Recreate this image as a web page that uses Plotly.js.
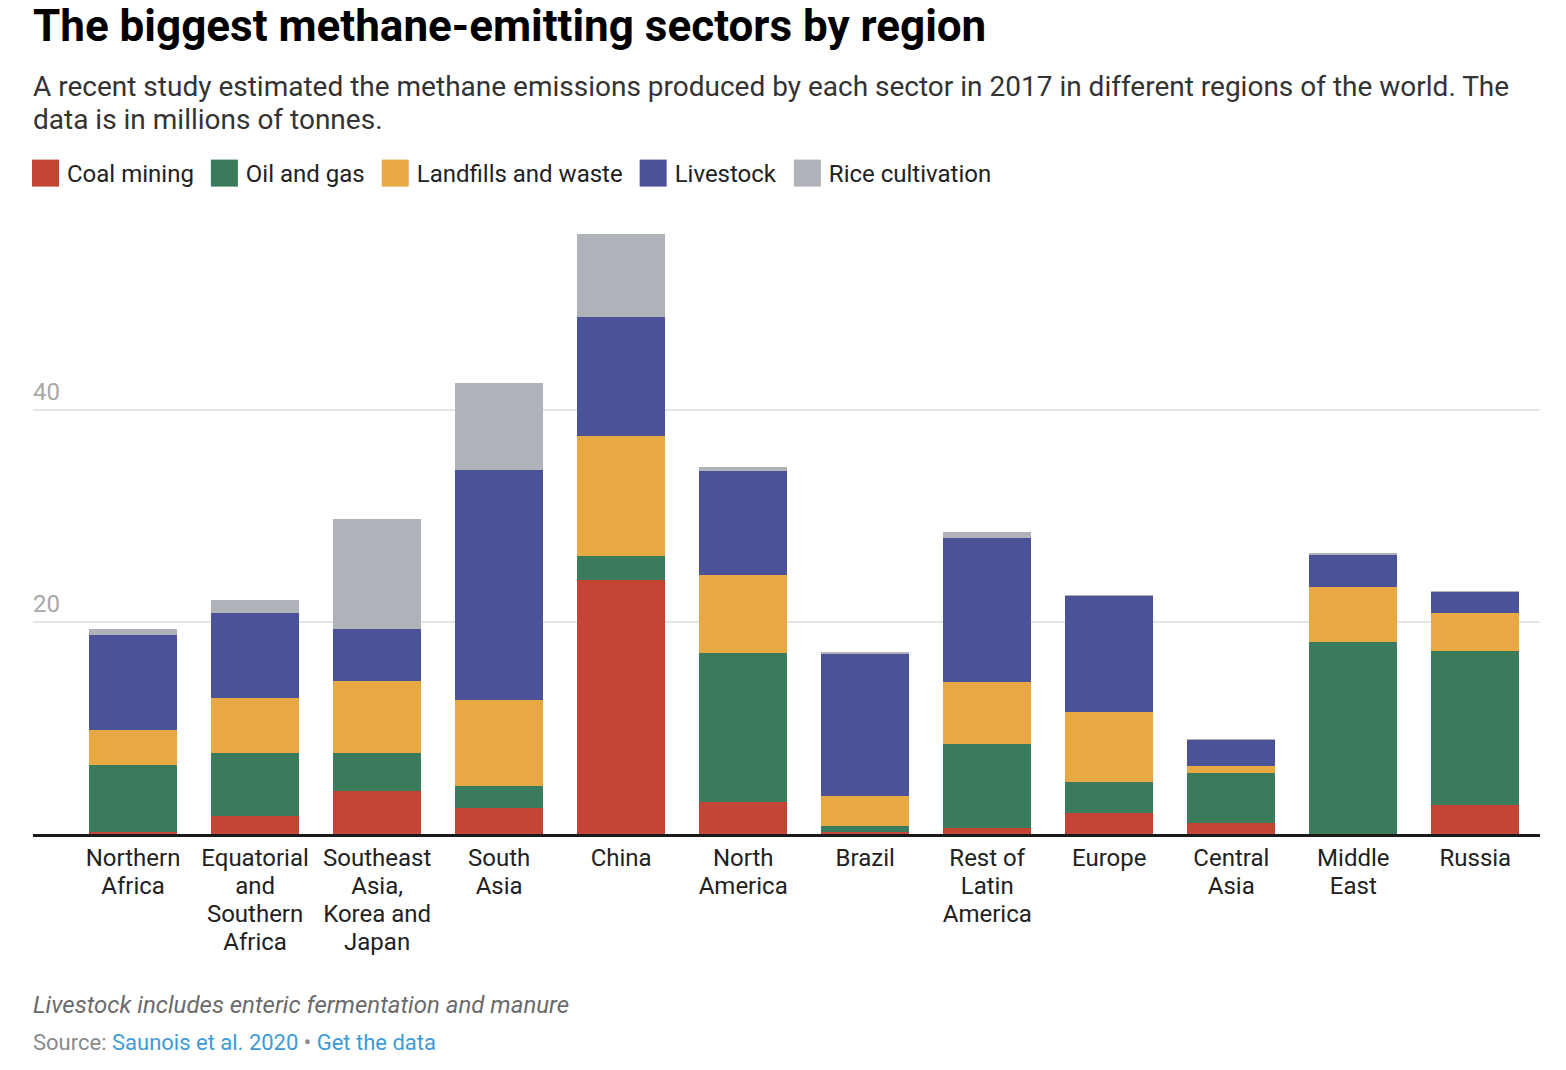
<!DOCTYPE html>
<html><head><meta charset="utf-8">
<script src="https://cdn.plot.ly/plotly-3.0.1.min.js"></script>
<style>body{margin:0;background:#fff}#chart{width:1566px;height:1070px}</style>
</head><body><div id="chart"></div>
<script>
const regions = ["Northern<br>Africa", "Equatorial<br>and<br>Southern<br>Africa", "Southeast<br>Asia,<br>Korea and<br>Japan", "South<br>Asia", "China", "North<br>America", "Brazil", "Rest of<br>Latin<br>America", "Europe", "Central<br>Asia", "Middle<br>East", "Russia"];
const sectorNames = ["Coal mining", "Oil and gas", "Landfills and waste", "Livestock", "Rice cultivation"];
const coalMining       = [0.22, 1.73, 4.06, 2.48, 24.0, 3.05, 0.19, 0.57, 1.95, 1.04, 0.0, 2.74];
const oilAndGas        = [6.30, 5.91, 3.58, 2.05, 2.26, 14.03, 0.56, 7.92, 2.96, 4.71, 18.10, 14.52];
const landfillsWaste   = [3.30, 5.19, 6.79, 8.11, 11.30, 7.35, 2.83, 5.85, 6.60, 0.67, 5.19, 3.59];
const livestock        = [8.95, 8.02, 4.91, 21.73, 11.22, 9.82, 13.40, 13.58, 10.94, 2.45, 3.02, 2.01];
const riceCultivation  = [0.57, 1.23, 10.38, 8.18, 7.83, 0.37, 0.19, 0.57, 0.10, 0.09, 0.19, 0.07];
const yTickVals = [20, 40];
const colors = ["#c44536", "#3a7b5c", "#e8a844", "#4b5298", "#afb2b9"];

const series = [coalMining, oilAndGas, landfillsWaste, livestock, riceCultivation];
const traces = series.map((vals, i) => ({
  type: "bar",
  name: sectorNames[i],
  x: regions,
  y: vals,
  width: 0.72,
  marker: {color: colors[i], line: {width: 0}},
  hoverinfo: "skip"
}));

const F = "Roboto, sans-serif";
const py = px => (834 - px) / 612;   // paper y for a page pixel row

const layout = {
  width: 1566, height: 1070,
  paper_bgcolor: "#fff", plot_bgcolor: "#fff",
  font: {family: F, color: "#222"},
  margin: {l: 33, r: 26, t: 222, b: 236},
  barmode: "stack",
  title: {
    text: "<b>The biggest methane-emitting sectors by region</b>",
    font: {family: F, size: 44, color: "#000"},
    x: 33/1566, xanchor: "left", xref: "container",
    y: 1 - 10/1070, yanchor: "top", yref: "container", pad: {t: 0, b: 0, l: 0, r: 0}
  },
  showlegend: true,
  legend: {
    orientation: "h", traceorder: "normal",
    xref: "container", yref: "container",
    x: 20/1566, xanchor: "left", y: 1 - 151/1070, yanchor: "top",
    itemwidth: 37,
    font: {family: F, size: 24, color: "#222"},
    bgcolor: "rgba(0,0,0,0)", borderwidth: 0
  },
  xaxis: {
    type: "category",
    range: [-0.82, 11.53],
    showgrid: false, zeroline: false,
    showline: true, linecolor: "#1a1a1a", linewidth: 3,
    ticks: "", ticklabelstandoff: 0,
    tickfont: {family: F, size: 24, color: "#222"},
    fixedrange: true
  },
  yaxis: {
    range: [0, 57.74],
    tickvals: yTickVals,
    ticktext: yTickVals.map(String),
    ticklabelposition: "inside top",
    ticklabelstandoff: -3, ticklabelshift: -2,
    showgrid: true, gridcolor: "#e5e5e5", gridwidth: 1.5,
    zeroline: false, showline: false, ticks: "",
    tickfont: {family: F, size: 24, color: "#a8a8a8"},
    fixedrange: true
  },
  annotations: [
    {
      text: "A recent study estimated the methane emissions produced by each sector in 2017 in different regions of the world. The",
      xref: "paper", yref: "paper", x: 0, xshift: -2, y: py(87), xanchor: "left", yanchor: "middle", align: "left",
      showarrow: false, font: {family: F, size: 28, color: "#333"}
    },
    {
      text: "data is in millions of tonnes.",
      xref: "paper", yref: "paper", x: 0, xshift: -2, y: py(120), xanchor: "left", yanchor: "middle", align: "left",
      showarrow: false, font: {family: F, size: 28, color: "#333"}
    },
    {
      text: "<i>Livestock includes enteric fermentation and manure</i>",
      xref: "paper", yref: "paper", x: 0, xshift: -2, y: py(1005), xanchor: "left", yanchor: "middle", align: "left",
      showarrow: false, font: {family: F, size: 24, color: "#6b6b6b"}
    },
    {
      text: "Source: <span style=\"color:#3e9bd3\">Saunois et al. 2020</span> • <span style=\"color:#3e9bd3\">Get the data</span>",
      xref: "paper", yref: "paper", x: 0, xshift: -2, y: py(1042), xanchor: "left", yanchor: "middle", align: "left",
      showarrow: false, font: {family: F, size: 22, color: "#8a8a8a"}
    }
  ]
};

Plotly.newPlot("chart", traces, layout, {staticPlot: true, displayModeBar: false}).then(gd => {
  // larger square legend swatches, placed 8px before their label
  gd.querySelectorAll(".legend .traces").forEach(tr => {
    const p = tr.querySelector(".legendpoints path");
    const txt = tr.querySelector("text.legendtext");
    if (!p || !txt) return;
    const base = p.getAttribute("transform") || "";
    p.setAttribute("transform", base + " scale(2.25)");
    const pr = p.getBoundingClientRect();
    const tb = txt.getBoundingClientRect();
    const dx = (tb.left - 8) - pr.right;
    p.setAttribute("transform", base + " translate(" + dx + ",0) scale(2.25)");
  });
  // tighter line spacing for multi-line category labels
  gd.querySelectorAll(".xtick text tspan.line").forEach(t => {
    const dy = t.getAttribute("dy");
    if (dy && /em$/.test(dy)) {
      const v = parseFloat(dy);
      if (v > 0) t.setAttribute("dy", (v * 1.17 / 1.3) + "em");
    }
  });
});
</script>
</body></html>
